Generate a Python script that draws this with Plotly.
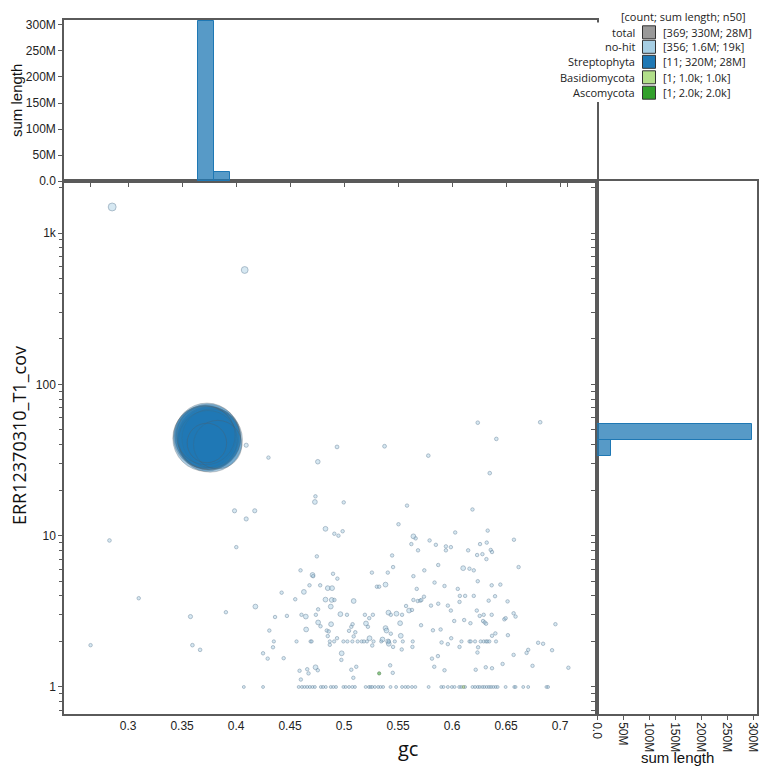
import numpy as np
import plotly.graph_objects as go

# ---------------- data ----------------
# Streptophyta contigs (gc, coverage, length)
strep_gc = [0.372, 0.374, 0.376, 0.373, 0.375, 0.371, 0.377, 0.374, 0.372, 0.383, 0.373]
strep_cov = [44, 45, 43, 46, 44, 45, 44, 43, 46, 40, 41]
strep_len = [38e6, 37e6, 36e6, 36e6, 34e6, 33e6, 28e6, 28e6, 28e6, 17e6, 10e6]

# no-hit contigs: notable ones with individual lengths
nohit_sp_gc = [0.2853, 0.408, 0.4094, 0.4757, 0.4935, 0.5375, 0.3986, 0.4173, 0.4094, 0.3578,
               0.578, 0.6238, 0.641, 0.6816, 0.6349, 0.2828, 0.3596, 0.3667]
nohit_sp_cov = [1487, 570, 39.6, 30.8, 38.6, 39.0, 14.6, 14.6, 12.9, 2.92,
                33.8, 55.8, 43.6, 56.2, 25.9, 9.3, 1.89, 1.76]
nohit_sp_len = [100000, 60000, 8000, 12000, 5000, 5000, 8000, 8000, 8000, 8000,
                4000, 4000, 4000, 4000, 4000, 4000, 4000, 4000]

# no-hit contigs of ~15 kb
nohit_15k_gc = [0.473, 0.4828, 0.5642, 0.4708, 0.4849, 0.4889, 0.5384, 0.4628, 0.4828, 0.4886,
                0.5089, 0.4877, 0.4179, 0.4646, 0.4966, 0.5411, 0.5485, 0.5602, 0.4649, 0.476,
                0.488, 0.5203, 0.5384, 0.5393, 0.5519, 0.5525, 0.5236, 0.5356, 0.5408, 0.5414,
                0.4978, 0.4736, 0.6103]
nohit_15k_cov = [16.7, 11.1, 9.9, 5.5, 4.5, 4.5, 4.75, 4.25, 3.78, 3.76,
                 3.7, 3.4, 3.4, 2.92, 3.03, 3.1, 3.05, 3.2, 2.4, 2.67,
                 2.6, 2.63, 2.45, 2.36, 2.64, 2.18, 2.1, 2.06, 2.0, 1.93,
                 1.67, 1.35, 6.1]

# no-hit contigs of ~3 kb
nohit_3k_gc = [0.430, 0.4002, 0.3099, 0.3906, 0.2653, 0.4735, 0.4997, 0.5583, 0.491, 0.4948,
               0.4987, 0.5504, 0.5663, 0.5623, 0.5685, 0.4748, 0.5445, 0.5454, 0.4597, 0.4714,
               0.4898, 0.4938, 0.5405, 0.5258, 0.5743, 0.5642, 0.468, 0.4779, 0.5304, 0.5325,
               0.4422, 0.4548, 0.4911, 0.476, 0.5673, 0.5642, 0.5682, 0.5706, 0.574, 0.5716,
               0.4361, 0.4471, 0.4606, 0.4739, 0.5027, 0.5193, 0.5233, 0.5267, 0.5433, 0.5537,
               0.5574, 0.5629, 0.4308, 0.4782, 0.484, 0.4858, 0.4849, 0.4935, 0.5067, 0.5079,
               0.5046, 0.5104, 0.5089, 0.5221, 0.5433, 0.5713, 0.4342, 0.5454, 0.5261, 0.4868,
               0.425, 0.4293, 0.4441, 0.4975, 0.5534, 0.5633, 0.5427, 0.5451, 0.5113, 0.5067,
               0.5086, 0.4659, 0.4671, 0.4588, 0.4757, 0.46,
               0.6189, 0.6029, 0.633, 0.5792, 0.585, 0.5943, 0.5943, 0.5989, 0.6149, 0.6259,
               0.6321, 0.6358, 0.637, 0.6232, 0.6281, 0.6318, 0.6573, 0.5872, 0.6161, 0.6201,
               0.6616, 0.5838, 0.593, 0.6238, 0.6053, 0.6367, 0.6447, 0.6072, 0.6121, 0.6201,
               0.6398, 0.6069, 0.6339, 0.6514, 0.5805, 0.5872, 0.5961, 0.5989, 0.6229, 0.6256,
               0.6293, 0.6367, 0.657, 0.6588, 0.6484, 0.6496, 0.602, 0.6112, 0.617, 0.6287,
               0.6302, 0.6315, 0.6957, 0.5823, 0.5894, 0.5992, 0.637, 0.6401, 0.6517, 0.5903,
               0.5961, 0.6069, 0.6241, 0.6235, 0.6797, 0.6843, 0.6705, 0.669, 0.6926, 0.657,
               0.5869, 0.5814, 0.5835, 0.593, 0.6219, 0.6312, 0.637, 0.6468, 0.6745, 0.7077]
nohit_3k_cov = [32.8, 8.4, 3.86, 3.12, 1.89, 18.2, 16.6, 15.8, 10.3, 10.0,
                10.7, 11.9, 9.6, 8.8, 8.0, 7.3, 7.4, 6.2, 5.9, 5.4,
                5.6, 5.2, 5.7, 5.7, 5.9, 5.4, 4.7, 4.7, 4.6, 4.6,
                4.2, 3.8, 3.76, 3.26, 4.45, 3.76, 3.7, 3.72, 3.95, 3.76,
                2.9, 2.95, 3.0, 3.0, 3.0, 3.0, 2.85, 3.0, 3.0, 3.0,
                3.43, 3.23, 2.36, 2.52, 2.36, 2.33, 2.17, 2.1, 2.5, 2.6,
                2.35, 2.3, 2.16, 2.5, 2.25, 2.56, 1.83, 1.84, 1.88, 1.9,
                1.67, 1.54, 1.55, 1.51, 1.77, 1.84, 1.39, 1.24, 1.36, 1.3,
                1.15, 1.31, 1.23, 1.28, 1.29, 1.12,
                14.9, 10.5, 10.8, 9.3, 8.7, 8.5, 8.0, 8.4, 8.0, 8.8,
                9.0, 8.05, 7.8, 7.45, 7.55, 7.0, 9.4, 6.4, 6.05, 5.9,
                6.2, 4.9, 4.65, 5.0, 4.45, 4.7, 4.75, 4.0, 4.0, 4.0,
                3.98, 3.65, 3.72, 3.68, 3.45, 3.55, 3.45, 3.2, 3.2, 2.95,
                3.0, 3.0, 3.07, 2.92, 2.8, 2.85, 2.73, 2.77, 2.64, 2.73,
                2.67, 2.62, 2.6, 2.37, 2.4, 2.1, 2.18, 2.26, 2.2, 1.97,
                1.92, 1.84, 1.83, 1.69, 1.96, 1.93, 1.76, 1.68, 1.75, 1.63,
                1.6, 1.54, 1.36, 1.29, 1.3, 1.35, 1.33, 1.42, 1.38, 1.34]

# no-hit contigs with coverage exactly 2 (~2 kb) and exactly 1 (~1 kb)
nohit_cov2_gc = [0.435, 0.456, 0.469, 0.470, 0.4868, 0.4908, 0.4994, 0.5031, 0.5077, 0.5126,
                 0.5163, 0.5184, 0.5212, 0.5273, 0.5344, 0.5414, 0.547, 0.5544, 0.5636,
                 0.6087, 0.6161, 0.6173, 0.6213, 0.6265, 0.6293, 0.6315, 0.6327, 0.6345, 0.6407]
nohit_cov1_gc = [0.4072, 0.425, 0.458, 0.461, 0.4634, 0.4659, 0.4683, 0.4708, 0.473, 0.4785,
                 0.4806, 0.4831, 0.4877, 0.4901, 0.4926, 0.4994, 0.5015, 0.5046, 0.5077, 0.5101,
                 0.52, 0.523, 0.5245, 0.526, 0.5285, 0.5316, 0.5338, 0.5362, 0.543, 0.5482,
                 0.5537, 0.5568, 0.5593, 0.5629, 0.566,
                 0.5783, 0.59, 0.5921, 0.5961, 0.5998, 0.6023, 0.6066, 0.6084, 0.6121, 0.6189,
                 0.6213, 0.6238, 0.6256, 0.6281, 0.6299, 0.6321, 0.6342, 0.6361, 0.6382, 0.6404,
                 0.6422, 0.6496, 0.6576, 0.6588, 0.6659, 0.6705, 0.6874, 0.6889]

basidio_gc, basidio_cov, basidio_len = [0.6105], [1.0], [1000]
asco_gc, asco_cov, asco_len = [0.5325], [1.23], [2000]

legend_names = ["total", "no-hit", "Streptophyta", "Basidiomycota", "Ascomycota"]
legend_stats = ["[369; 330M; 28M]", "[356; 1.6M; 19k]", "[11; 320M; 28M]",
                "[1; 1.0k; 1.0k]", "[1; 2.0k; 2.0k]"]
legend_colors = ["#999999", "#a6cee3", "#1f78b4", "#b2df8a", "#33a02c"]

# ---------------- assemble ----------------
nohit_gc = nohit_sp_gc + nohit_15k_gc + nohit_3k_gc + nohit_cov2_gc + nohit_cov1_gc
nohit_cov = (nohit_sp_cov + nohit_15k_cov + nohit_3k_cov
             + [2.0] * len(nohit_cov2_gc) + [1.0] * len(nohit_cov1_gc))
nohit_len = (nohit_sp_len + [15000] * len(nohit_15k_gc) + [3000] * len(nohit_3k_gc)
             + [2000] * len(nohit_cov2_gc) + [1000] * len(nohit_cov1_gc))


def msize(lengths):
    return [2 + 64 * (l / 38e6) ** 0.4 for l in lengths]


W, H = 770, 778
def px(x): return x / W
def py(y): return 1 - y / H

X0, X1, X2 = px(64), px(597), px(757)
Y0, Y1, Y2 = py(714), py(181), py(20)
XR = [0.2407, 0.7342]
YR = [-0.1785, 3.344]

fig = go.Figure()

groups = [
    ("no-hit", nohit_gc, nohit_cov, nohit_len, "rgba(166,206,227,0.65)", "rgba(95,125,150,0.75)"),
    ("Basidiomycota", basidio_gc, basidio_cov, basidio_len, "rgba(178,223,138,0.8)", "rgba(90,120,80,0.8)"),
    ("Ascomycota", asco_gc, asco_cov, asco_len, "rgba(51,160,44,0.8)", "rgba(40,100,40,0.8)"),
    ("Streptophyta", strep_gc, strep_cov, strep_len, "rgba(31,120,180,0.55)", "rgba(90,90,90,0.45)"),
]
for name, g, c, l, fill, line in groups:
    fig.add_trace(go.Scatter(
        x=g, y=c, mode="markers", name=name, showlegend=False,
        marker=dict(size=msize(l), sizemode="diameter", color=fill,
                    line=dict(color=line, width=0.9)),
        xaxis="x", yaxis="y", hoverinfo="skip"))

# histograms (sum of length per bin)
gbw = 0.01475
gedges = np.arange(0.3645 - 9 * gbw, 0.76, gbw)
cbw = 0.106
cedges = np.arange(1.524 - 18 * cbw, 3.45, cbw)

hist_groups = [
    (nohit_gc, nohit_cov, nohit_len, "rgba(166,206,227,0.75)", "rgba(166,206,227,0)", 0),
    (strep_gc, strep_cov, strep_len, "rgba(31,120,180,0.75)", "#1f78b4", 1),
]


def nz(a):
    return [float(v) if v > 0 else None for v in a]


for g, c, l, fill, edge, lw in hist_groups:
    hs, _ = np.histogram(g, bins=gedges, weights=l)
    gcent = (gedges[:-1] + gedges[1:]) / 2
    fig.add_trace(go.Bar(x=gcent, y=nz(hs), width=gbw, xaxis="x2", yaxis="y2",
                         marker=dict(color=fill, line=dict(color=edge, width=lw)),
                         showlegend=False, hoverinfo="skip"))
    hc, _ = np.histogram(np.log10(c), bins=cedges, weights=l)
    ccent = (cedges[:-1] + cedges[1:]) / 2
    fig.add_trace(go.Bar(y=ccent, x=nz(hc), width=cbw, orientation="h", xaxis="x3", yaxis="y3",
                         marker=dict(color=fill, line=dict(color=edge, width=lw)),
                         showlegend=False, hoverinfo="skip"))

AX = dict(showline=True, mirror=True, linecolor="#5a5a5a", linewidth=1.5,
          showgrid=False, zeroline=False, automargin=False,
          tickfont=dict(family="Liberation Sans, Arial", size=12, color="#222"),
          ticklen=4, tickcolor="#5a5a5a")

len_ticks = [0, 50e6, 100e6, 150e6, 200e6, 250e6, 300e6]
len_text = ["0.0", "50M", "100M", "150M", "200M", "250M", "300M"]
gc_ticks = [0.3, 0.35, 0.4, 0.45, 0.5, 0.55, 0.6, 0.65, 0.7]
cov_major = [1, 10, 100, 1000]
cov_minor = [m * 10 ** k for k in range(0, 4) for m in range(2, 10) if m * 10 ** k < 2300]
cov_minor = [0.7, 0.8, 0.9] + cov_minor

fig.update_layout(
    width=W, height=H, margin=dict(l=0, r=0, t=0, b=0),
    paper_bgcolor="white", plot_bgcolor="white", barmode="overlay", bargap=0,
    xaxis=dict(AX, domain=[X0, X1], range=XR, anchor="y",
               tickvals=gc_ticks, ticktext=[str(v) for v in gc_ticks], ticks=""),
    yaxis=dict(AX, domain=[Y0, Y1], type="log", range=YR, anchor="x",
               tickvals=cov_major, ticktext=["1", "10", "100", "1k"], ticks="outside",
               minor=dict(tickvals=cov_minor, ticks="outside", ticklen=3, tickcolor="#5a5a5a")),
    xaxis2=dict(AX, domain=[X0, X1], range=XR, anchor="y2", showticklabels=False,
                tickvals=[0.265] + gc_ticks + [0.707], ticks="outside"),
    yaxis2=dict(AX, domain=[Y1, Y2], range=[0, 309.6e6], anchor="x2",
                tickvals=len_ticks, ticktext=len_text, ticks="outside"),
    xaxis3=dict(AX, domain=[X1, X2], range=[0, 307.7e6], anchor="y3",
                tickvals=len_ticks, ticktext=len_text, ticks="outside", tickangle=90),
    yaxis3=dict(AX, domain=[Y0, Y1], range=YR, anchor="x3", showticklabels=False,
                tickvals=[float(np.log10(v)) for v in cov_major + cov_minor], ticks="outside"),
)


def note(text, x, y, font, xanchor="center", angle=0):
    return dict(text=text, x=px(x), y=py(y), xref="paper", yref="paper",
                xanchor=xanchor, yanchor="middle", textangle=angle,
                showarrow=False, font=font)


TF = dict(family="Liberation Sans, Arial", size=15, color="#111")
ann = [
    note("gc", 408, 748, dict(family="Open Sans", size=20, color="#111")),
    note("ERR12370310_T1_cov", 19, 436, dict(family="Open Sans", size=18, color="#111"), angle=-90),
    note("sum length", 16, 101, TF, angle=-90),
    note("sum length", 677, 757, TF),
]

shapes = [dict(type="rect", xref="paper", yref="paper", x0=px(560), x1=1, y0=py(102), y1=py(22.5),
               fillcolor="white", line=dict(width=0), layer="above")]

LF = dict(family="Open Sans", size=11, color="#222")
ann.append(note("[count; sum length; n50]", 683.5, 16.7, LF))
rows = [32.3, 46.8, 61.8, 77.3, 92.7]
for name, stat, col, ry in zip(legend_names, legend_stats, legend_colors, rows):
    ann.append(note(name, 637, ry, LF, xanchor="right"))
    ann.append(note(stat, 660.5, ry, LF, xanchor="left"))
    shapes.append(dict(type="rect", xref="paper", yref="paper",
                       x0=px(642.5), x1=px(655.5), y0=py(ry + 6.5), y1=py(ry - 6.5),
                       fillcolor=col, line=dict(color="#333", width=1), layer="above"))

fig.update_layout(annotations=ann, shapes=shapes)
fig.write_html("out.html")
